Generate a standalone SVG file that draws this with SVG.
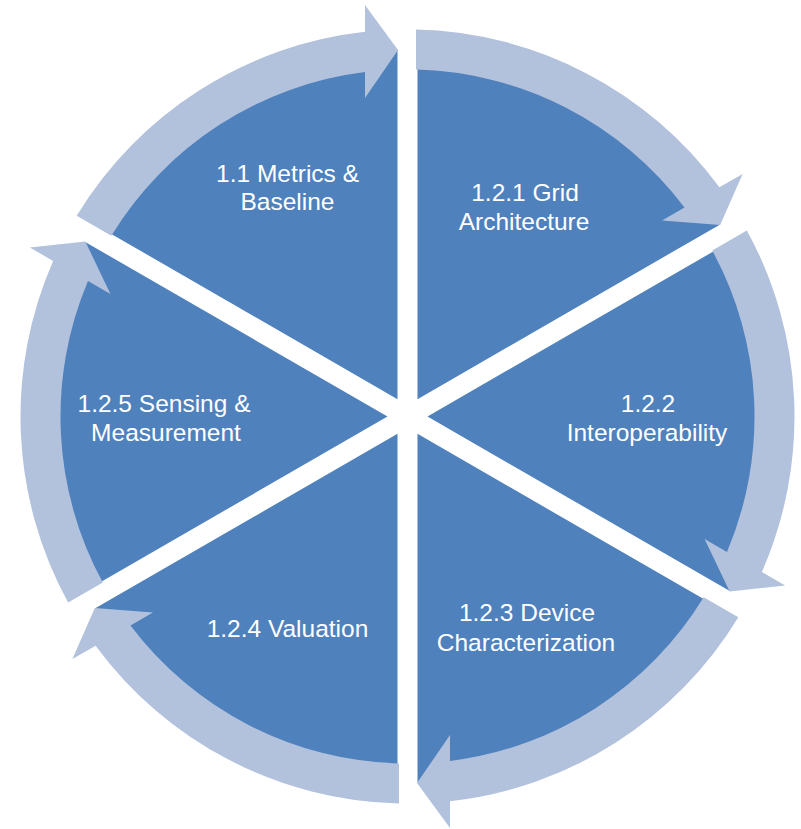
<svg xmlns="http://www.w3.org/2000/svg" width="801" height="829" viewBox="0 0 801 829">
<defs>
<style>
.wedge{fill:#4F81BD}
.arrow{fill:#B2C1DC}
.lbl{font-family:"Liberation Sans",Arial,sans-serif;font-size:24.5px;fill:#FFFFFF;text-anchor:middle}
</style>
<path id="wedgeShape" d="M 10,-17.32 L 10,-366.86 A 367 367 0 0 1 312.7,-192.1 Z"/>
<path id="arrowShape" d="M -330.82,-200.82 A 387 387 0 0 1 -42.5,-384.66 L -42.5,-411.5 L -9.5,-366.5 L -42.5,-318.5 L -42.5,-344.39 A 347 347 0 0 0 -296.17,-180.81 Z"/>
</defs>
<rect width="801" height="829" fill="#FFFFFF"/>
<g id="node-1-1">
<use href="#wedgeShape" class="wedge" transform="translate(407.5 416.5) rotate(-60)"/>
<text class="lbl" x="287.5" y="182">1.1 Metrics &amp;</text>
<text class="lbl" x="287.5" y="210">Baseline</text>
</g>
<g id="node-1-2-1">
<use href="#wedgeShape" class="wedge" transform="translate(407.5 416.5)"/>
<text class="lbl" x="525" y="201">1.2.1 Grid</text>
<text class="lbl" x="524" y="230">Architecture</text>
</g>
<g id="node-1-2-2">
<use href="#wedgeShape" class="wedge" transform="translate(407.5 416.5) rotate(60)"/>
<text class="lbl" x="648" y="412">1.2.2</text>
<text class="lbl" x="647" y="441">Interoperability</text>
</g>
<g id="node-1-2-3">
<use href="#wedgeShape" class="wedge" transform="translate(407.5 416.5) rotate(120)"/>
<text class="lbl" x="527" y="621">1.2.3 Device</text>
<text class="lbl" x="526" y="651">Characterization</text>
</g>
<g id="node-1-2-4">
<use href="#wedgeShape" class="wedge" transform="translate(407.5 416.5) rotate(180)"/>
<text class="lbl" x="287.5" y="637">1.2.4 Valuation</text>
</g>
<g id="node-1-2-5">
<use href="#wedgeShape" class="wedge" transform="translate(407.5 416.5) rotate(240)"/>
<text class="lbl" x="164" y="412">1.2.5 Sensing &amp;</text>
<text class="lbl" x="166" y="441">Measurement</text>
</g>
<g id="connectors">
<use href="#arrowShape" class="arrow" transform="translate(407.5 416.5)"/>
<use href="#arrowShape" class="arrow" transform="translate(407.5 416.5) rotate(60)"/>
<use href="#arrowShape" class="arrow" transform="translate(407.5 416.5) rotate(120)"/>
<use href="#arrowShape" class="arrow" transform="translate(407.5 416.5) rotate(180)"/>
<use href="#arrowShape" class="arrow" transform="translate(407.5 416.5) rotate(240)"/>
<use href="#arrowShape" class="arrow" transform="translate(407.5 416.5) rotate(300)"/>
</g>
</svg>
